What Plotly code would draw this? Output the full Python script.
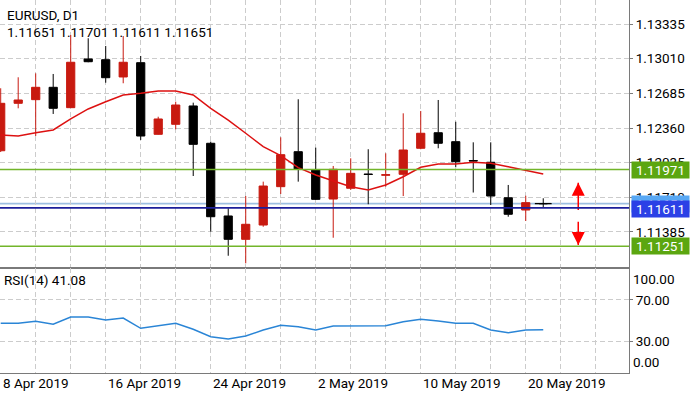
import plotly.graph_objects as go
from datetime import date

# ---------------- data ----------------
dates = ["2019-04-08", "2019-04-09", "2019-04-10", "2019-04-11", "2019-04-12",
         "2019-04-15", "2019-04-16", "2019-04-17", "2019-04-18", "2019-04-19",
         "2019-04-22", "2019-04-23", "2019-04-24", "2019-04-25", "2019-04-26",
         "2019-04-29", "2019-04-30", "2019-05-01", "2019-05-02", "2019-05-03",
         "2019-05-06", "2019-05-07", "2019-05-08", "2019-05-09", "2019-05-10",
         "2019-05-13", "2019-05-14", "2019-05-15", "2019-05-16", "2019-05-17",
         "2019-05-20", "2019-05-21"]

opens = [1.12147, 1.12592, 1.12626, 1.12742, 1.12551, 1.13008, 1.13001, 1.12839,
         1.12973, 1.12301, 1.12395, 1.12567, 1.12217, 1.11535, 1.11316, 1.11450,
         1.11810, 1.12138, 1.11966, 1.11694, 1.11795, 1.11929, 1.11917, 1.11926,
         1.12170, 1.12316, 1.12232, 1.12055, 1.12039, 1.11706, 1.11591, 1.11651]
highs = [1.12733, 1.12836, 1.12873, 1.12867, 1.13233, 1.13202, 1.13130, 1.13223,
         1.13036, 1.12466, 1.12607, 1.12598, 1.12232, 1.11607, 1.11722, 1.11857,
         1.12273, 1.12630, 1.12176, 1.12004, 1.12076, 1.12161, 1.12123, 1.12498,
         1.12520, 1.12623, 1.12419, 1.12226, 1.12226, 1.11826, 1.11725, 1.11701]
lows = [1.12135, 1.12545, 1.12285, 1.12492, 1.12548, 1.12977, 1.12785, 1.12780,
        1.12248, 1.12298, 1.12348, 1.11910, 1.11388, 1.11162, 1.11091, 1.11434,
        1.11741, 1.11857, 1.11685, 1.11331, 1.11779, 1.11645, 1.11810, 1.11722,
        1.12161, 1.12170, 1.11992, 1.11755, 1.11638, 1.11528, 1.11488, 1.11611]
closes = [1.12592, 1.12623, 1.12742, 1.12545, 1.12977, 1.12982, 1.12832, 1.12977,
          1.12285, 1.12445, 1.12576, 1.12207, 1.11528, 1.11316, 1.11457, 1.11816,
          1.12110, 1.11976, 1.11691, 1.11973, 1.11935, 1.11924, 1.11922, 1.12154,
          1.12311, 1.12217, 1.12044, 1.12051, 1.11722, 1.11551, 1.11660, 1.11651]

ma_values = [1.12295, 1.12285, 1.12316, 1.12342, 1.12445, 1.12539, 1.12607, 1.12670,
             1.12686, 1.12707, 1.12707, 1.12670, 1.12545, 1.12435, 1.12311, 1.12185,
             1.12101, 1.11988, 1.11919, 1.11866, 1.11810, 1.11779, 1.11826, 1.11903,
             1.11992, 1.12023, 1.12023, 1.12039, 1.12029, 1.11997, 1.11960, 1.11929]

rsi_values = [47.3, 47.3, 49.2, 46.3, 53.4, 53.4, 50.5, 52.4, 42.4, 44.9, 47.3, 41.4,
              34.2, 32.0, 34.9, 40.7, 45.3, 44.0, 40.7, 44.6, 44.9, 44.9, 44.9, 48.8,
              51.2, 49.5, 47.3, 47.3, 40.7, 38.1, 40.7, 41.08]

label_dates = ["2019-04-08", "2019-04-16", "2019-04-24", "2019-05-02", "2019-05-10", "2019-05-20"]

price_ticks = [1.11385, 1.11710, 1.12035, 1.12360, 1.12685, 1.13010, 1.13335]
rsi_ticks = [30, 70]
rsi_edge_ticks = [100, 0]

level_green = [1.11971, 1.11251]
level_blue = 1.11611
level_bid = 1.11651

arrow_x = 33
arrow_up = (1.11591, 1.11847)    # base, tip
arrow_down = (1.11481, 1.11263)  # base, tip

symbol_text = "EURUSD, D1"
rsi_text = "RSI(14) 41.08"

# ---------------- styling ----------------
RED = "#c81a10"
BLACK = "#000000"
GRID = "#cccccc"
FRAME = "#7a7a7a"
FONT = "Roboto"
GREEN_LINE = "#72b52a"
GREEN_BOX = "#5ba610"
BLUE_LINE = "#1c1f9a"
BLUE_BOX = "#2b40e6"
BID_LINE = "#9ebfe0"
BID_BOX = "#58a8f4"
TXT = "#000000"

idx = list(range(len(dates)))
x_range = [-0.04, 35.90]

fig = go.Figure()

fig.add_trace(go.Candlestick(
    x=idx, open=opens, high=highs, low=lows, close=closes,
    increasing=dict(fillcolor=RED, line=dict(color=RED, width=1)),
    decreasing=dict(fillcolor=BLACK, line=dict(color=BLACK, width=1)),
    whiskerwidth=0, xaxis="x", yaxis="y", showlegend=False, hoverinfo="skip"))

# flat (doji) bodies: open == close, drawn as a horizontal tick
doji_x = [i for i in idx if opens[i] == closes[i]]
doji_y = [closes[i] for i in doji_x]
fig.add_trace(go.Scatter(x=doji_x, y=doji_y, mode="markers",
                         marker=dict(symbol="line-ew", size=12, color=BLACK,
                                     line=dict(color=BLACK, width=1.3)),
                         xaxis="x", yaxis="y", showlegend=False, hoverinfo="skip"))

fig.add_trace(go.Scatter(x=idx, y=ma_values, mode="lines",
                         line=dict(color="#dd1111", width=1.5),
                         xaxis="x", yaxis="y", showlegend=False, hoverinfo="skip"))

fig.add_trace(go.Scatter(x=idx, y=rsi_values, mode="lines",
                         line=dict(color="#2a85d6", width=1.5),
                         xaxis="x2", yaxis="y2", showlegend=False, hoverinfo="skip"))

# arrows (stem + head)
for (base, tip), sym in ((arrow_up, "arrow-up"), (arrow_down, "arrow-down")):
    fig.add_trace(go.Scatter(x=[arrow_x, arrow_x], y=[base, tip], mode="lines",
                             line=dict(color="#ff0000", width=1.5),
                             xaxis="x", yaxis="y", showlegend=False, hoverinfo="skip"))
    fig.add_trace(go.Scatter(x=[arrow_x], y=[tip], mode="markers",
                             marker=dict(symbol=sym, size=13, color="#ff0000",
                                         line=dict(width=0)),
                             xaxis="x", yaxis="y", showlegend=False, hoverinfo="skip"))

# horizontal levels
shapes = []
for lv, col, layer in ((level_bid, BID_LINE, "below"), (level_blue, BLUE_LINE, "above"),
                       (level_green[0], GREEN_LINE, "above"), (level_green[1], GREEN_LINE, "above")):
    shapes.append(dict(type="line", xref="x domain", yref="y", x0=0, x1=1, y0=lv, y1=lv,
                       line=dict(color=col, width=1.6), layer=layer))

font_txt = dict(family=FONT, size=13.5, color=TXT)
annotations = []
# header
annotations.append(dict(text=symbol_text, xref="paper", yref="paper", x=0, y=1 - 15 / 373,
                        xanchor="left", yanchor="middle", xshift=5, showarrow=False,
                        font=font_txt))
annotations.append(dict(text=" ".join(f"{v:.5f}" for v in (opens[-1], highs[-1], lows[-1], closes[-1])),
                        xref="paper", yref="paper", x=0, y=1 - 32 / 373,
                        xanchor="left", yanchor="middle", xshift=5, showarrow=False,
                        font=font_txt))
annotations.append(dict(text=rsi_text, xref="paper", yref="paper", x=0, y=1 - 280 / 373,
                        xanchor="left", yanchor="middle", xshift=2, showarrow=False,
                        font=font_txt))

# date labels (left-aligned at the bar)
for d in label_dates:
    i = dates.index(d)
    dt = date.fromisoformat(d)
    annotations.append(dict(text=f"{dt.day} {dt.strftime('%b')} {dt.year}",
                            xref="x2", yref="paper", x=i, y=-10.5 / 373,
                            xanchor="left", yanchor="middle", xshift=0, showarrow=False,
                            font=font_txt))

# RSI edge labels
for v, anch in zip(rsi_edge_ticks, ("top", "bottom")):
    annotations.append(dict(text=f"{v:.2f}", xref="paper", yref="y2", x=1, y=v, xanchor="left",
                            yanchor=anch, xshift=2, showarrow=False, font=font_txt))

# price boxes
for lv, col in ((level_green[0], GREEN_BOX), (level_green[1], GREEN_BOX),
                (level_bid, BID_BOX), (level_blue, BLUE_BOX)):
    yshift = -1.5 if lv == level_blue else 0
    annotations.append(dict(text=f"{lv:.5f}", xref="paper", yref="y", x=1, y=lv,
                            xanchor="left", yanchor="middle", xshift=2, yshift=yshift,
                            showarrow=False, bgcolor=col, width=55, height=14, borderpad=1,
                            font=dict(family=FONT, size=13.5, color="#ffffff")))

grid_common = dict(showgrid=True, gridcolor=GRID, griddash="5px,3px", gridwidth=1,
                   showline=True, linecolor=FRAME, linewidth=1, mirror=True, zeroline=False)

fig.update_layout(
    width=700, height=393,
    margin=dict(l=0, r=71, t=0, b=20),
    paper_bgcolor="white", plot_bgcolor="white",
    font=font_txt,
    boxgap=0.33,
    showlegend=False,
    xaxis=dict(domain=[0, 1], anchor="y", range=x_range,
               tick0=0, dtick=2, showticklabels=False, ticks="",
               rangeslider=dict(visible=False), **grid_common),
    xaxis2=dict(domain=[0, 1], anchor="y2", range=x_range, matches="x",
                tick0=0, dtick=2, showticklabels=False, ticks="", **grid_common),
    yaxis=dict(domain=[105 / 373, 1], anchor="x", side="right",
               range=[1.11047, 1.13561], tickvals=price_ticks,
               ticktext=[f"{v:.5f}" for v in price_ticks],
               ticks="outside", ticklen=3, tickcolor=FRAME,
               tickfont=font_txt, **grid_common),
    yaxis2=dict(domain=[0, 105 / 373], anchor="x2", side="right",
                range=[-1.2, 101.2], tickvals=rsi_ticks,
                ticktext=[f"{v:.2f}" for v in rsi_ticks],
                ticks="outside", ticklen=3, tickcolor=FRAME,
                tickfont=font_txt, **grid_common),
    shapes=shapes,
    annotations=annotations,
)

fig.write_html("out.html", config={"displayModeBar": False},
               post_script="document.body.style.margin='0';")
